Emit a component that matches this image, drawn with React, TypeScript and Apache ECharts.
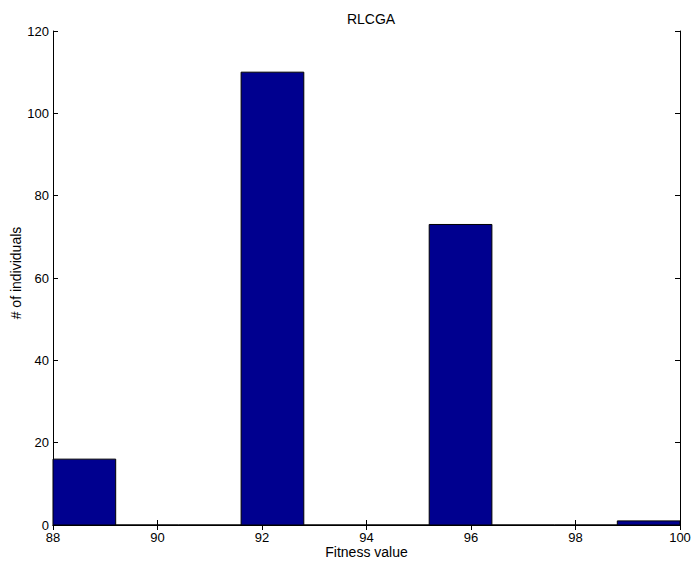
import React, { useEffect, useRef } from "react";
import * as echarts from "echarts";

const binEdges = [88, 89.2, 90.4, 91.6, 92.8, 94, 95.2, 96.4, 97.6, 98.8, 100];
const counts = [16, 0, 0, 110, 0, 0, 73, 0, 0, 1];
const xTicks = { min: 88, max: 100, interval: 2 };
const yTicks = { min: 0, max: 120, interval: 20 };
const titleText = "RLCGA";
const xName = "Fitness value";
const yName = "# of individuals";

const FONT = "Liberation Sans, Arial, Helvetica, sans-serif";

export default function App() {
  const ref = useRef<HTMLDivElement>(null);
  useEffect(() => {
    if (!ref.current) return;
    const chart = echarts.init(ref.current, undefined, { renderer: "svg" });
    const data = counts.map((c, i) => [binEdges[i], binEdges[i + 1], c]);
    const tickStyle = { show: true, inside: true, length: 5, lineStyle: { color: "#000", width: 1 } };
    const lineStyle = { show: true, lineStyle: { color: "#000", width: 1 } };
    const labelStyle = { color: "#000", fontSize: 13, fontFamily: FONT };
    const nameStyle = { color: "#000", fontSize: 14, fontFamily: FONT };
    chart.setOption({
      animation: false,
      backgroundColor: "#fff",
      title: {
        text: titleText,
        left: 366,
        top: 7,
        textAlign: "center",
        textStyle: { color: "#000", fontSize: 14, fontWeight: "normal", fontFamily: FONT },
      },
      grid: { left: 53, right: 11, top: 31, bottom: 38, containLabel: false, outerBoundsMode: "none" },
      xAxis: [
        {
          type: "value",
          ...xTicks,
          position: "bottom",
          axisLine: lineStyle,
          axisTick: tickStyle,
          splitLine: { show: false },
          axisLabel: { ...labelStyle, margin: 6 },
          name: xName,
          nameLocation: "middle",
          nameGap: 20,
          nameMoveOverlap: false,
          nameTextStyle: nameStyle,
        },
        {
          type: "value",
          ...xTicks,
          position: "top",
          axisLine: lineStyle,
          axisTick: tickStyle,
          splitLine: { show: false },
          axisLabel: { show: false },
        },
      ],
      yAxis: [
        {
          type: "value",
          ...yTicks,
          position: "left",
          axisLine: lineStyle,
          axisTick: tickStyle,
          splitLine: { show: false },
          axisLabel: { ...labelStyle, margin: 4 },
          name: yName,
          nameLocation: "middle",
          nameGap: 30,
          nameMoveOverlap: false,
          nameTextStyle: { ...nameStyle, padding: [0, 0, 0, 10] },
        },
        {
          type: "value",
          ...yTicks,
          position: "right",
          axisLine: lineStyle,
          axisTick: tickStyle,
          splitLine: { show: false },
          axisLabel: { show: false },
        },
      ],
      series: [
        {
          type: "custom",
          xAxisIndex: 0,
          yAxisIndex: 0,
          data,
          encode: { x: [0, 1], y: 2 },
          renderItem: (params: any, api: any) => {
            const p0 = api.coord([api.value(0), api.value(2)]);
            const p1 = api.coord([api.value(1), 0]);
            return {
              type: "rect",
              shape: { x: p0[0], y: p0[1], width: p1[0] - p0[0], height: p1[1] - p0[1] },
              style: { fill: "#00008F", stroke: "#000", lineWidth: 1 },
            };
          },
        },
      ],
    });
    return () => chart.dispose();
  }, []);
  return <div ref={ref} style={{ width: 691, height: 563, position: "absolute", left: 0, top: 0 }} />;
}
